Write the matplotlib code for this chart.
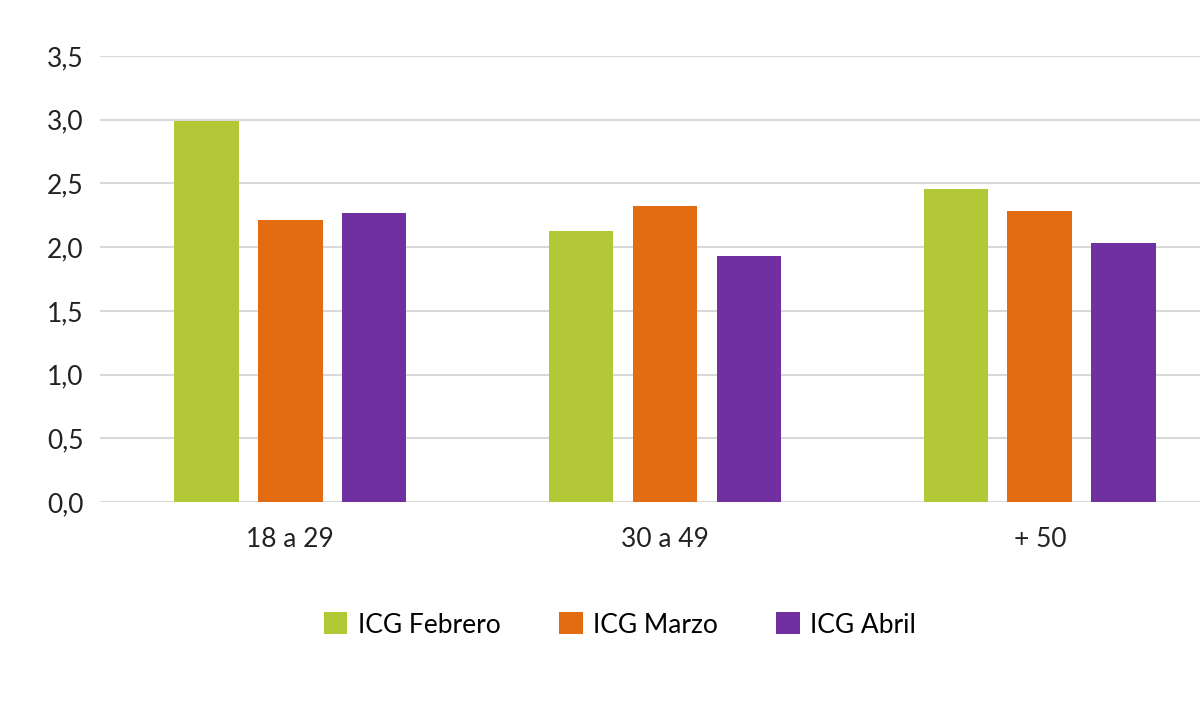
import matplotlib.pyplot as plt
import numpy as np

plt.rcParams['font.family'] = ['Lato', 'DejaVu Sans']

categories = ["18 a 29", "30 a 49", "+ 50"]
series = ["ICG Febrero", "ICG Marzo", "ICG Abril"]
values = {
    "ICG Febrero": [2.99, 2.13, 2.46],
    "ICG Marzo": [2.21, 2.32, 2.28],
    "ICG Abril": [2.27, 1.93, 2.03],
}
colors = ["#b3c836", "#e36c12", "#7030a0"]
yticks = np.arange(0, 3.51, 0.5)

fig = plt.figure(figsize=(12, 7.05), dpi=100)
ax = fig.add_axes([100 / 1200, 1 - 502 / 705, 1100 / 1200, (502 - 56) / 705])

x = np.arange(len(categories))
offsets = [-0.224, 0, 0.224]
for s, off, c in zip(series, offsets, colors):
    ax.bar(x + off, values[s], width=0.173, color=c, label=s, zorder=3)

ax.set_ylim(0, 3.5)
ax.set_xlim(-0.507, 2.427)
ax.set_yticks(yticks)
ax.set_yticklabels([f"{v:.1f}".replace(".", ",") for v in yticks])
ax.set_xticks(x)
ax.set_xticklabels(categories)
ax.tick_params(axis='both', length=0, labelsize=19, colors="#222222")
ax.tick_params(axis='x', pad=18)
ax.tick_params(axis='y', pad=38)
for t in ax.get_yticklabels():
    t.set_horizontalalignment('left')
ax.grid(axis='y', color="#d9d9d9", lw=1.5, zorder=0)
for sp in ax.spines.values():
    sp.set_visible(False)

ax.legend(loc='center', bbox_to_anchor=(620 / 1200, 1 - 625 / 705),
          bbox_transform=fig.transFigure, ncol=3, frameon=False,
          fontsize=19, handlelength=0.9, handleheight=0.9,
          columnspacing=2.2, handletextpad=0.4)

fig.savefig("out.png", dpi=100)
